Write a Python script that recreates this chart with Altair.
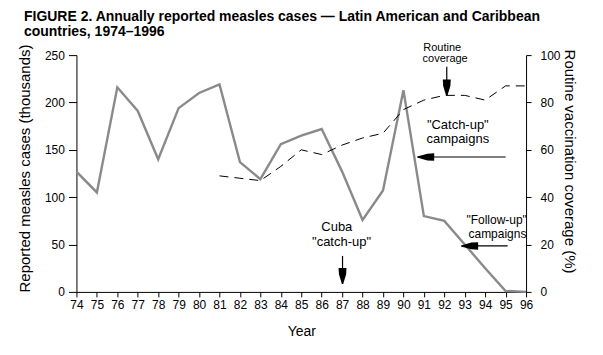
import altair as alt
import pandas as pd

FONT = "Liberation Sans"

# ---- data ----
years = list(range(74, 97))
cases = [127, 105, 216, 191, 140, 194, 210, 219, 137, 119, 156, 165, 172,
         127, 76, 107, 213, 80, 75, 50, 25, 1, 0]
cov_years = list(range(81, 97))
coverage = [49, 48, 47, 53, 60, 58, 62, 65, 67, 77, 81, 83, 83, 81, 87, 87]

# annotation texts (positions in data units: year, thousands of cases)
ann_text = ["Routine", "coverage", "\"Catch-up\"", "campaigns",
            "\"Follow-up\"", "campaigns", "Cuba", "\"catch-up\""]
ann_x = [91.9, 92.04, 92.66, 92.66, 94.56, 94.6, 86.74, 86.97]
ann_y = [257.6, 245.6, 176.2, 161.4, 75.9, 61.2, 68.0, 52.7]
ann_size = [11, 11, 13, 13, 12, 12, 13, 13]

# vertical arrows
varr_x = [92.12, 87.02]
varr_top = [237.7, 38.0]
varr_bot = [207.8, 8.4]
varr_head = [215.7, 16.9]
# horizontal arrows
harr_y = [142.4, 48.5]
harr_from = [95.0, 95.1]
harr_to = [90.7, 92.85]
harr_head = [91.09, 93.24]

cases_df = pd.DataFrame({"year": years, "cases": cases})
cov_df = pd.DataFrame({"year": cov_years, "coverage": coverage})
ann_df = pd.DataFrame({"year": ann_x, "cases": ann_y, "t": ann_text, "s": ann_size})
vshaft_df = pd.DataFrame({"year": varr_x, "cases": varr_top, "cases2": varr_bot})
vhead_df = pd.DataFrame({"year": varr_x, "cases": varr_head})
hshaft_df = pd.DataFrame({"year": harr_from, "year2": harr_to, "cases": harr_y})
hhead_df = pd.DataFrame({"year": harr_head, "cases": harr_y})

xscale = alt.Scale(domain=[74, 96], nice=False, zero=False)
yscale = alt.Scale(domain=[0, 250], nice=False)

xaxis = alt.Axis(values=years, format="d", title="Year",
                 tickSize=5, labelPadding=3, titlePadding=14,
                 labelFlush=False, labelOverlap=False,
                 labelFontSize=12, titleFontSize=14)
yaxis = alt.Axis(values=[0, 50, 100, 150, 200, 250],
                 title="Reported measles cases  (thousands)",
                 tickSize=8, labelPadding=4, titlePadding=12, titleY=113,
                 labelFontSize=12, titleFontSize=15)

X = alt.X("year:Q", scale=xscale, axis=xaxis, title="Year")
Y = alt.Y("cases:Q", scale=yscale, axis=yaxis,
          title="Reported measles cases  (thousands)")

cases_line = alt.Chart(cases_df).mark_line(
    color="#8a8a8a", strokeWidth=2.4
).encode(x=X, y=Y)

texts = alt.Chart(ann_df).mark_text(
    font=FONT, color="black", baseline="middle", align="center"
).encode(
    x=X, y=Y, text="t:N",
    size=alt.Size("s:Q", scale=None, legend=None),
)

vshaft = alt.Chart(vshaft_df).mark_rule(color="black", strokeWidth=1.2).encode(
    x=X, y=Y, y2="cases2:Q",
)
vhead = alt.Chart(vhead_df).mark_point(
    shape="M-0.5,-1L0.5,-1L0.45,-0.2L0.08,1L-0.08,1L-0.45,-0.2Z",
    filled=True, color="black", opacity=1, size=256
).encode(x=X, y=Y)

hshaft = alt.Chart(hshaft_df).mark_rule(color="black", strokeWidth=1.2).encode(
    x=X, x2="year2:Q", y=Y,
)
hhead = alt.Chart(hhead_df).mark_point(
    shape="M1,-0.45L1,0.45L0.2,0.4L-1,0.06L-1,-0.06L0.2,-0.4Z",
    filled=True, color="black", opacity=1, size=289
).encode(x=X, y=Y)

left = alt.layer(cases_line, texts, vshaft, vhead, hshaft, hhead)

cov_line = alt.Chart(cov_df).mark_line(
    color="black", strokeWidth=1, strokeDash=[9, 6]
).encode(
    x=X,
    y=alt.Y("coverage:Q", scale=alt.Scale(domain=[0, 100], nice=False),
            axis=alt.Axis(orient="right", values=[0, 20, 40, 60, 80, 100],
                          title="Routine vaccination coverage (%)",
                          tickSize=5, labelPadding=9, titlePadding=1, titleY=106,
                          labelFontSize=12, titleFontSize=15)),
)

chart = alt.layer(left, cov_line).resolve_scale(y="independent").properties(
    width=450, height=237,
    background="white",
    autosize=alt.AutoSizeParams(type="none"),
    padding={"left": 68.5, "top": 47, "right": 69, "bottom": 55},
    title=alt.TitleParams(
        text=["FIGURE 2. Annually reported measles cases \u2014 Latin American and Caribbean",
              "countries, 1974\u20131996"],
        anchor="start", frame="group", dx=-52.5, offset=3, fontSize=14,
        fontWeight="bold", font=FONT, color="black", lineHeight=15,
    ),
).configure_view(stroke=None).configure_axis(
    grid=False, domainColor="black", tickColor="black", labelColor="black",
    titleColor="black", labelFont=FONT, titleFont=FONT, titleFontWeight="normal",
    domainWidth=1, tickWidth=1,
)

chart.save("out.html", embed_options={"renderer": "svg", "actions": False})
